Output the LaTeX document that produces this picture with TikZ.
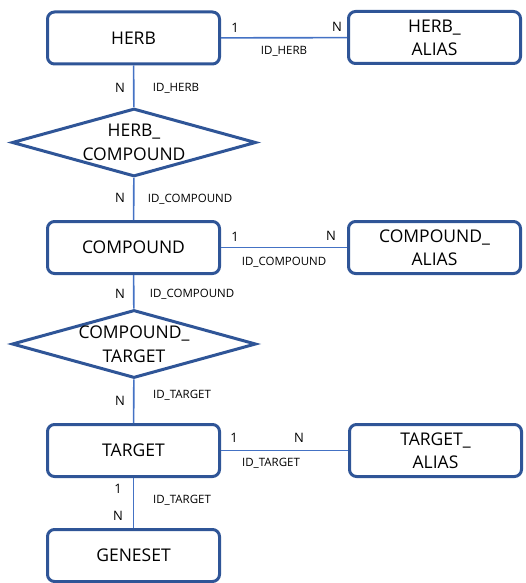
\documentclass[tikz,border=0pt]{standalone}
\usepackage{fontspec}
\setmainfont{Open Sans}
\usetikzlibrary{shapes.geometric}
\definecolor{erblue}{HTML}{2F5597}
\definecolor{lnblue}{HTML}{4472C4}
\begin{document}
\begin{tikzpicture}[x=1pt,y=-1pt,line join=round,
  entity/.style={draw=erblue,line width=3pt,rounded corners=7pt,minimum width=172pt,minimum height=52pt,
    inner sep=0pt,align=center,font=\fontsize{17.5}{23}\selectfont},
  rel/.style={draw=erblue,line width=3pt,line join=miter,diamond,aspect=3.6,minimum width=244pt,minimum height=68pt,inner sep=0pt},
  reltext/.style={align=center,inner sep=0pt,font=\fontsize{17.5}{24.5}\selectfont},
  link/.style={draw=lnblue,line width=1.6pt},
  card/.style={inner sep=0pt,font=\fontsize{13}{15}\selectfont},
  key/.style={inner sep=0pt,font=\fontsize{11.5}{13}\selectfont}]
  \useasboundingbox (0,0) rectangle (525,583);
  \node[entity] (herb) at (133.5,38) {HERB};
  \node[entity] (herbalias) at (434.5,37.5) {HERB\_\\ALIAS};
  \node[rel,label={[reltext]center:HERB\_\\COMPOUND}] (herbcomp) at (134,142.5) {};
  \node[entity] (compound) at (133.5,247.5) {COMPOUND};
  \node[entity] (compalias) at (434.5,247.5) {COMPOUND\_\\ALIAS};
  \node[rel,label={[reltext]center:COMPOUND\_\\TARGET}] (comptarget) at (134,344) {};
  \node[entity] (target) at (133.5,450.5) {TARGET};
  \node[entity] (targetalias) at (435.5,450.5) {TARGET\_\\ALIAS};
  \node[entity] (geneset) at (133.5,555.5) {GENESET};
  \draw[link] (herb) -- (herbalias);
  \draw[link] (herb) -- (herbcomp);
  \draw[link] (herbcomp) -- (compound);
  \draw[link] (compound) -- (compalias);
  \draw[link] (compound) -- (comptarget);
  \draw[link] (comptarget) -- (target);
  \draw[link] (target) -- (targetalias);
  \draw[link] (target) -- (geneset);
  \node[card] (ha1) at (235,28) {1};
  \node[card] (haN) at (337,27) {N};
  \node[key] (hakey) at (284,51) {ID\_HERB};
  \node[card] (hcN1) at (120,88) {N};
  \node[key] (hckey1) at (176,88) {ID\_HERB};
  \node[card] (hcN2) at (120,198) {N};
  \node[key] (hckey2) at (190,199) {ID\_COMPOUND};
  \node[card] (ca1) at (235,237) {1};
  \node[card] (caN) at (331,236) {N};
  \node[key] (cakey) at (284,262) {ID\_COMPOUND};
  \node[card] (ctN1) at (120,294) {N};
  \node[key] (ctkey1) at (192,294) {ID\_COMPOUND};
  \node[card] (ctN2) at (120,401) {N};
  \node[key] (ctkey2) at (182,395) {ID\_TARGET};
  \node[card] (ta1) at (234,438) {1};
  \node[card] (taN) at (299,438) {N};
  \node[key] (takey) at (271,463) {ID\_TARGET};
  \node[card] (tg1) at (118,489) {1};
  \node[card] (tgN) at (118,516) {N};
  \node[key] (tgkey) at (182,500) {ID\_TARGET};
\end{tikzpicture}
\end{document}
